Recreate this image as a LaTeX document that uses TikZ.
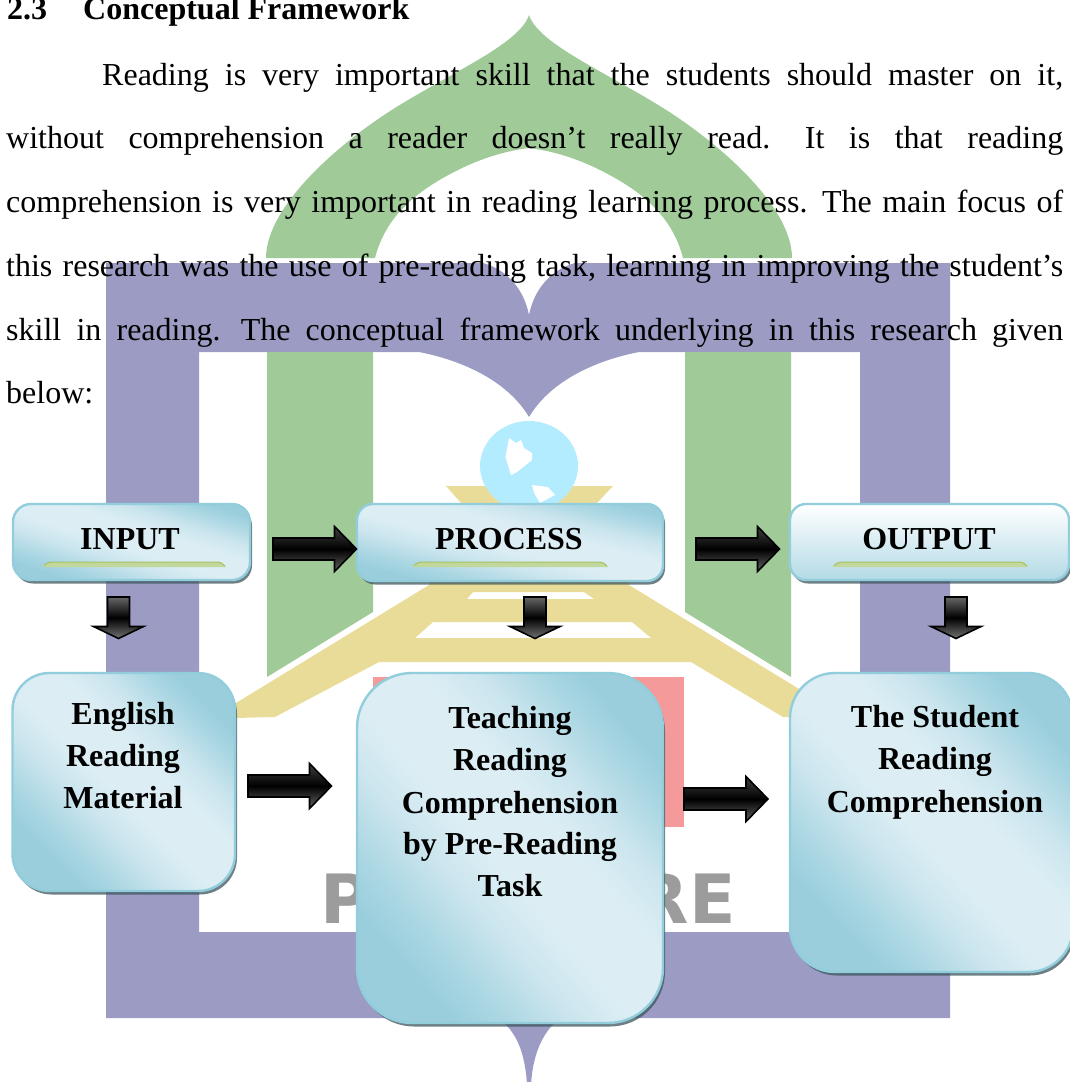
\documentclass[tikz,border=0pt]{standalone}
\usepackage{fontspec}
\setmainfont{Liberation Serif}
\newfontfamily\wmfont{DejaVu Sans}
\usetikzlibrary{shadows,calc}
\definecolor{wgreen}{HTML}{A0CB99}
\definecolor{wpurple}{HTML}{9B9BC4}
\definecolor{wyellow}{HTML}{E9DC98}
\definecolor{wred}{HTML}{F49A9A}
\definecolor{wgrey}{HTML}{9C9C9C}
\definecolor{wglobe}{HTML}{B3ECFF}
\definecolor{boxdark}{HTML}{9ACEDD}
\definecolor{boxlight}{HTML}{DCEEF4}
\definecolor{boxline}{HTML}{92CDDC}
\definecolor{boxmidA}{HTML}{ABD7E3}
\definecolor{boxmidB}{HTML}{CBE5EE}
\definecolor{accentfill}{HTML}{C2D79B}
\definecolor{accentline}{HTML}{A6C265}
\pgfdeclareverticalshading{panelshade}{100bp}{color(0bp)=(boxdark);color(26bp)=(boxdark);color(32bp)=(boxmidA);color(40bp)=(boxmidB);color(47bp)=(boxlight);color(57bp)=(boxlight);color(64bp)=(boxmidB);color(71bp)=(boxmidA);color(76bp)=(boxdark);color(100bp)=(boxdark)}
\tikzset{
  panel/.style={rectangle,inner sep=0pt,outer sep=0pt,draw=boxline,line width=2.4pt,
    drop shadow={shadow xshift=2pt,shadow yshift=-3.5pt,fill=black!40!boxline!70!black,opacity=.75}},
  diagfill/.style={shading=panelshade,shading angle=#1},
  label/.style={font=\fontsize{32}{36}\selectfont\bfseries,inner sep=0pt,anchor=base},
  para/.style={font=\fontsize{32}{36}\selectfont,inner sep=0pt,anchor=base west},
  blockshadow/.style={fill=black!45,draw=none},
  blockh/.style={draw=black,line width=1.6pt,line join=miter,shading=axis,top color=black!75,bottom color=black!60,middle color=black},
  blockv/.style={draw=black,line width=1.6pt,line join=miter,shading=axis,top color=black!60,bottom color=black!55,middle color=black},
  accent/.style={fill=accentfill,draw=none},
  wm/.style={font=\fontsize{68}{68}\selectfont\wmfont\bfseries,text=wgrey,inner sep=0pt,anchor=base west}
}
\frenchspacing
% horizontal block arrow from coordinate #1 to tip coordinate #2
\newcommand\harrowshape[3]{%
  \path[#3] let \p1=(#1),\p2=(#2) in
    (\x1,\y1+11pt) -- (\x2-22pt,\y1+11pt) -- (\x2-22pt,\y1+22.5pt) -- (\x2,\y1)
    -- (\x2-22pt,\y1-22.5pt) -- (\x2-22pt,\y1-11pt) -- (\x1,\y1-11pt) -- cycle;}
\newcommand\harrow[2]{%
  \begin{scope}[shift={(3pt,-4pt)}]\harrowshape{#1}{#2}{blockshadow}\end{scope}
  \harrowshape{#1}{#2}{blockh}}
% vertical block arrow
\newcommand\varrowshape[3]{%
  \path[#3] let \p1=(#1),\p2=(#2) in
    (\x1-11pt,\y1) -- (\x1+11pt,\y1) -- (\x1+11pt,\y2+12pt) -- (\x1+25pt,\y2+12pt) -- (\x1,\y2)
    -- (\x1-25pt,\y2+12pt) -- (\x1-11pt,\y2+12pt) -- cycle;}
\newcommand\varrow[2]{%
  \begin{scope}[shift={(3pt,-4pt)}]\varrowshape{#1}{#2}{blockshadow}\end{scope}
  \varrowshape{#1}{#2}{blockv}}
\newcommand\accentbar[2]{%
  \path[accent] (#1,567) .. controls (#1+4,563) and (#1+6,562) .. (#1+10,562) -- (#2-8,562) .. controls (#2-4,562) and (#2-2,564) .. (#2,567) -- cycle;
  \draw[accentline,line width=1pt] (#1+2,565.5) .. controls (#1+5,563) and (#1+7,562) .. (#1+10,562) -- (#2-8,562) .. controls (#2-5,562) and (#2-3,564) .. (#2-1,566);}
\begin{document}
\begin{tikzpicture}[x=1pt,y=-1pt]
\useasboundingbox (0,0) rectangle (1070,1082);
\clip (0,0) rectangle (1070,1082);
% --- watermark ---
\fill[wgreen] (266,258) .. controls (266,205) and (343,139) .. (403,103) .. controls (463,67) and (520,42) .. (529,15)
  .. controls (538,42) and (595,67) .. (655,103) .. controls (715,139) and (792,205) .. (792,258)
  -- (683,258) .. controls (672,215) and (640,190) .. (600,170) .. controls (570,155) and (545,150) .. (529,148)
  .. controls (513,150) and (488,155) .. (458,170) .. controls (418,190) and (386,215) .. (375,258) -- cycle;
\fill[wpurple,even odd rule]
  (106,263) -- (483,263) .. controls (508,270) and (524,290) .. (529,315) .. controls (534,290) and (550,270) .. (575,263)
  -- (950,263) -- (950,1018) -- (560,1018) .. controls (545,1030) and (533,1050) .. (531,1085) -- (527,1085)
  .. controls (525,1050) and (515,1030) .. (498,1018) -- (106,1018) -- cycle
  (199,352) -- (419,352) .. controls (470,362) and (510,385) .. (529,417) .. controls (548,385) and (588,362) .. (639,352)
  -- (860,352) -- (860,932) -- (199,932) -- cycle;
\fill[wgreen] (267,352) -- (373,352) -- (373,612) -- (267,677) -- cycle;
\fill[wgreen] (685,352) -- (791,352) -- (791,677) -- (685,612) -- cycle;
\fill[wred] (373,677) rectangle (684,827);
\fill[wyellow,even odd rule]
  (446,486) -- (613,486) -- (597,503) -- (629,585) -- (822,703) -- (822,718) -- (783,717) -- (691,662) -- (379,662) -- (275,717) -- (236,718) -- (236,703) -- (429,585) -- (461,503) -- cycle
  (473,592) -- (584,592) -- (594,599) -- (467,599) -- cycle
  (433,622) -- (632,622) -- (651,638) -- (415,638) -- cycle;
\fill[wglobe] (529,466) ellipse [x radius=49,y radius=45];
\fill[white] (509,438) -- (516,443) -- (521,440) -- (524,448) -- (532,453) -- (532,460) -- (522,468) -- (517,472) -- (511,475) -- (505.5,457) -- cycle;
\fill[white] (532,485) -- (548,487) -- (555,495) -- (540,503) -- (534,493) -- cycle;
\node[wm] (wmP) at (320,923) {P};
\node[wm,anchor=base east] (wmRE) at (736,923) {RE};
% --- text ---
\node[para,font=\fontsize{32}{36}\selectfont\bfseries] (secnum) at (7,19) {2.3};
\node[para,font=\fontsize{32}{36}\selectfont\bfseries] (sectitle) at (83,19) {Conceptual Framework};
\node[para] (line1) at (102,85.5) {\makebox[961pt][s]{Reading is very important skill that the students should master on it,}};
\node[para] (line2) at (6,148.5) {\makebox[1057pt][s]{without comprehension a reader doesn’t really read.\kern10pt{} It is that reading}};
\node[para] (line3) at (6,212.5) {\makebox[1057pt][s]{comprehension is very important in reading learning process.\kern4pt{} The main focus of}};
\node[para] (line4) at (6,276.5) {\makebox[1057pt][s]{this research was the use of pre-reading task, learning in improving the student’s}};
\node[para] (line5) at (6,340) {\makebox[1057pt][s]{skill in reading.\kern5pt{} The conceptual framework underlying in this research given}};
\node[para] (line6) at (6,403.5) {below:};
% --- header boxes ---
\node[panel,diagfill=-17.6,rounded corners=18pt,minimum width=237pt,minimum height=76pt] (input) at (131.5,542) {};
\node[panel,diagfill=-14,rounded corners=16pt,minimum width=306pt,minimum height=77pt] (process) at (510,542.5) {};
\node[panel,shading=axis,top color=white,bottom color=boxdark!75!white,rounded corners=16pt,minimum width=279pt,minimum height=76pt] (output) at (929.5,542) {};
\accentbar{42}{226}
\accentbar{412}{608}
\accentbar{832}{1028}
\node[label] (inputtxt) at (130,549) {INPUT};
\node[label] (processtxt) at (509,549) {PROCESS};
\node[label] (outputtxt) at (929,549) {OUTPUT};
% --- content boxes ---
\node[panel,diagfill=-45,rounded corners=37pt,minimum width=222.5pt,minimum height=218pt] (english) at (123.75,782) {};
\node[panel,diagfill=-49,rounded corners=55pt,minimum width=306pt,minimum height=350pt] (teaching) at (510,848) {};
\node[panel,diagfill=-47,rounded corners=45pt,minimum width=283pt,minimum height=299pt] (student) at (931.5,822.5) {};
\node[label] (e1) at (123,724) {English};
\node[label] (e2) at (123,766) {Reading};
\node[label] (e3) at (123,808) {Material};
\node[label] (t1) at (510,728) {Teaching};
\node[label] (t2) at (510,770) {Reading};
\node[label] (t3) at (510,813) {Comprehension};
\node[label] (t4) at (510,854) {by Pre-Reading};
\node[label] (t5) at (510,896) {Task};
\node[label] (s1) at (935,727) {The Student};
\node[label] (s2) at (935,769) {Reading};
\node[label] (s3) at (935,812) {Comprehension};
% --- block arrows ---
\coordinate (a1s) at (273,549); \coordinate (a1e) at (356.5,549);
\coordinate (a2s) at (696,549); \coordinate (a2e) at (779.5,549);
\coordinate (a3s) at (248,786); \coordinate (a3e) at (331.5,786);
\coordinate (a4s) at (684,799); \coordinate (a4e) at (768,799);
\coordinate (d1s) at (118.5,597); \coordinate (d1e) at (118.5,638.5);
\coordinate (d2s) at (535,597); \coordinate (d2e) at (535,638.5);
\coordinate (d3s) at (956,597); \coordinate (d3e) at (956,638.5);
\harrow{a1s}{a1e}
\harrow{a2s}{a2e}
\harrow{a3s}{a3e}
\harrow{a4s}{a4e}
\varrow{d1s}{d1e}
\varrow{d2s}{d2e}
\varrow{d3s}{d3e}
\end{tikzpicture}
\end{document}
